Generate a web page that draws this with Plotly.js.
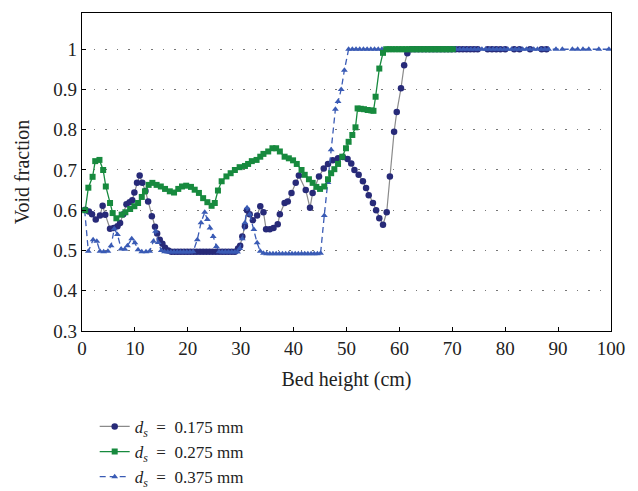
<!DOCTYPE html>
<html>
<head>
<meta charset="utf-8">
<script src="https://cdn.plot.ly/plotly-3.0.1.min.js"></script>
<style>html,body{margin:0;padding:0;background:#fff}#chart{width:638px;height:491px}</style>
</head>
<body>
<div id="chart"></div>
<script>
// Bed height (cm) and void fraction for each particle size
const x175 = [0.6,1.3,1.9,2.6,3.4,3.9,4.4,5.3,6.0,6.7,7.2,7.8,8.4,9.0,9.5,9.9,10.4,10.9,11.4,12.0,12.5,13.2,13.8,14.2,14.7,15.2,15.7,16.3,16.9,17.5,18.1,18.7,19.3,19.9,20.5,21.1,21.7,22.3,22.9,23.5,24.1,24.7,25.3,25.9,26.5,27.1,27.7,28.3,28.9,29.5,29.9,30.3,30.8,31.2,31.7,32.3,33.1,33.7,34.3,34.8,35.5,36.2,37.0,37.4,38.3,38.9,39.6,40.4,41.0,42.3,43.1,43.6,44.8,45.7,46.5,47.4,48.4,49.3,50.2,50.9,51.5,52.3,53.1,53.7,54.2,55.0,55.6,56.2,56.9,57.6,58.2,59.0,59.5,60.3,60.9,61.5,62.2,62.9,63.6,64.3,65.0,65.7,66.4,67.1,67.8,68.5,69.2,69.9,70.6,71.3,72.0,72.7,73.4,74.1,74.8,76.7,77.5,78.3,79.1,80.0,81.7,82.7,84.7,86.9,87.8];
const y175 = [0.601,0.597,0.59,0.577,0.587,0.611,0.589,0.554,0.556,0.56,0.568,0.59,0.615,0.62,0.625,0.644,0.668,0.686,0.668,0.648,0.622,0.585,0.559,0.542,0.527,0.517,0.507,0.5,0.497,0.497,0.497,0.497,0.497,0.497,0.497,0.497,0.497,0.497,0.497,0.497,0.497,0.497,0.497,0.497,0.497,0.497,0.497,0.497,0.497,0.505,0.512,0.535,0.56,0.60,0.59,0.575,0.587,0.61,0.595,0.553,0.553,0.556,0.565,0.59,0.618,0.622,0.643,0.668,0.686,0.65,0.606,0.643,0.684,0.704,0.715,0.724,0.729,0.732,0.727,0.716,0.70,0.688,0.672,0.655,0.637,0.618,0.60,0.58,0.564,0.595,0.684,0.795,0.844,0.903,0.96,0.99,1,1,1,1,1,1,1,1,1,1,1,1,1,1,1,1,1,1,1,1,1,1,1,1,1,1,1,1,1];

const x275 = [0.6,1.2,2.0,2.5,3.3,4.0,4.5,5.3,5.8,6.5,7.5,8.2,9.1,9.9,10.6,11.3,11.9,12.6,13.3,14.1,14.9,15.7,16.6,17.4,18.2,18.9,19.7,20.6,21.3,22.1,22.9,23.7,24.5,25.1,25.7,26.4,27.3,28.1,28.9,29.8,30.8,31.4,32.1,33.0,33.7,34.3,35.2,36.0,36.7,37.4,38.3,39.1,39.9,40.6,41.5,42.1,42.9,43.6,44.3,45.0,45.8,46.5,47.1,47.7,48.4,49.2,49.9,50.4,51.1,51.7,52.1,52.7,53.3,54.0,54.7,55.1,55.5,56.2,56.9,57.5,58.1,58.7,59.3,59.9,60.5,61.1,61.7,62.3,62.9,63.5,64.1,64.7,65.3,65.9,66.5,67.1,67.7,68.3,68.9,69.5,70.1];
const y275 = [0.60,0.656,0.683,0.722,0.725,0.70,0.659,0.618,0.593,0.58,0.589,0.595,0.603,0.61,0.618,0.633,0.647,0.663,0.668,0.663,0.659,0.653,0.647,0.644,0.653,0.659,0.661,0.658,0.651,0.643,0.630,0.62,0.611,0.618,0.649,0.672,0.684,0.692,0.70,0.707,0.71,0.715,0.722,0.725,0.733,0.74,0.746,0.754,0.754,0.746,0.733,0.729,0.724,0.715,0.70,0.688,0.677,0.668,0.658,0.653,0.659,0.677,0.692,0.702,0.715,0.733,0.754,0.77,0.787,0.806,0.853,0.852,0.851,0.849,0.848,0.847,0.882,0.952,0.991,1,1,1,1,1,1,1,1,1,1,1,1,1,1,1,1,1,1,1,1,1,1];

const x375 = [0.5,1.2,2.1,2.8,3.4,4.1,4.9,5.5,6.1,6.7,7.4,8.1,8.6,9.4,10.0,10.6,11.3,12.1,12.8,13.5,13.9,14.4,15.0,15.6,16.2,16.8,17.4,18.0,18.6,19.2,19.8,20.4,21.0,21.8,22.5,23.2,23.7,24.2,24.8,25.4,25.9,26.5,27.1,27.7,28.3,28.9,29.4,29.8,30.3,30.8,31.2,31.7,32.5,33.1,33.7,34.3,34.9,35.5,36.1,36.7,37.3,37.9,38.5,39.1,39.7,40.3,40.9,41.5,42.1,42.7,43.3,43.9,44.5,45.1,45.8,46.5,47.1,47.9,48.4,49.0,49.6,50.4,51.1,51.8,52.5,53.2,53.9,54.6,55.3,56.0,56.7,57.4,58.1,58.8,59.5,60.2,60.9,61.6,62.3,63.0,63.7,64.4,65.1,65.8,66.5,67.2,67.9,68.6,69.3,70.0,70.7,71.4,72.1,72.8,73.5,74.2,74.9,75.6,76.3,77.0,77.7,78.4,79.1,79.8,80.5,81.2,81.9,82.6,83.3,84.0,84.7,85.4,86.1,86.8,87.5,88.2,89.6,90.8,92.7,93.7,94.7,95.8,97.7,99.6];
const y375 = [0.60,0.498,0.527,0.523,0.498,0.497,0.498,0.512,0.554,0.54,0.504,0.503,0.512,0.529,0.519,0.502,0.497,0.497,0.498,0.523,0.548,0.52,0.50,0.497,0.496,0.496,0.496,0.496,0.496,0.496,0.496,0.496,0.497,0.527,0.569,0.595,0.577,0.556,0.535,0.51,0.497,0.496,0.496,0.496,0.496,0.496,0.496,0.505,0.529,0.569,0.606,0.59,0.552,0.519,0.498,0.493,0.492,0.492,0.492,0.492,0.492,0.492,0.492,0.492,0.492,0.492,0.492,0.492,0.492,0.492,0.492,0.492,0.492,0.493,0.587,0.669,0.75,0.851,0.87,0.90,0.948,1,1,1,1,1,1,1,1,1,1,1,1,1,1,1,1,1,1,1,1,1,1,1,1,1,1,1,1,1,1,1,1,1,1,1,1,1,1,1,1,1,1,1,1,1,1,1,1,1,1,1,1,1,1,1,1,1,1,1,1,1,1,1,1,1];

const names = ['<i>d<sub>s</sub></i>\u2002=\u20020.175 mm','<i>d<sub>s</sub></i>\u2002=\u20020.275 mm','<i>d<sub>s</sub></i>\u2002=\u20020.375 mm'];
const xTicks = [0,10,20,30,40,50,60,70,80,90,100];
const yTicks = [0.3,0.4,0.5,0.6,0.7,0.8,0.9,1];

const FONT = 'Liberation Serif, Times New Roman, serif';

const traces = [
  {x:x175, y:y175, name:names[0], legendrank:1, type:'scatter', mode:'lines+markers',
   line:{color:'#8a8a8a', width:1.2}, marker:{symbol:'circle', size:6.5, color:'#272a78'}},
  {x:x375, y:y375, name:names[2], legendrank:3, type:'scatter', mode:'lines+markers',
   line:{color:'#3a5bb5', width:1.3, dash:'6px,4px'}, marker:{symbol:'triangle-up', size:6, color:'#3a5bb5'}},
  {x:x275, y:y275, name:names[1], legendrank:2, type:'scatter', mode:'lines+markers',
   line:{color:'#178a3e', width:1.3}, marker:{symbol:'square', size:6, color:'#178a3e'}}
];

const layout = {
  width:638, height:491,
  margin:{l:82, r:27, t:13, b:160, autoexpand:false},
  paper_bgcolor:'#fff', plot_bgcolor:'#fff',
  font:{family:FONT, size:19, color:'#222'},
  showlegend:true,
  legend:{x:0.024, xanchor:'left', y:-0.245, yanchor:'top', bgcolor:'rgba(0,0,0,0)',
          font:{family:FONT, size:17, color:'#222'}, tracegroupgap:0},
  xaxis:{range:[0,100], tickvals:xTicks, ticktext:xTicks.map(String), ticks:'inside', ticklen:4,
         tickcolor:'#000', showline:true, linecolor:'#000', linewidth:1.3, mirror:true,
         showgrid:false, zeroline:false, fixedrange:true, automargin:false,
         tickfont:{family:FONT, size:19},
         title:{text:'Bed height (cm)', font:{family:FONT, size:20}, standoff:14}},
  yaxis:{range:[0.3,1.09], tickvals:yTicks, ticktext:yTicks.map(String), ticks:'inside', ticklen:4,
         tickcolor:'#000', showline:true, linecolor:'#000', linewidth:1.3, mirror:true,
         showgrid:true, gridcolor:'#777', gridwidth:1, griddash:'1.5px,10px', zeroline:false,
         automargin:false, tickfont:{family:FONT, size:19},
         title:{text:'Void fraction', font:{family:FONT, size:20}, standoff:18}}
};

Plotly.newPlot('chart', traces, layout, {staticPlot:true, displayModeBar:false});
</script>
</body>
</html>
